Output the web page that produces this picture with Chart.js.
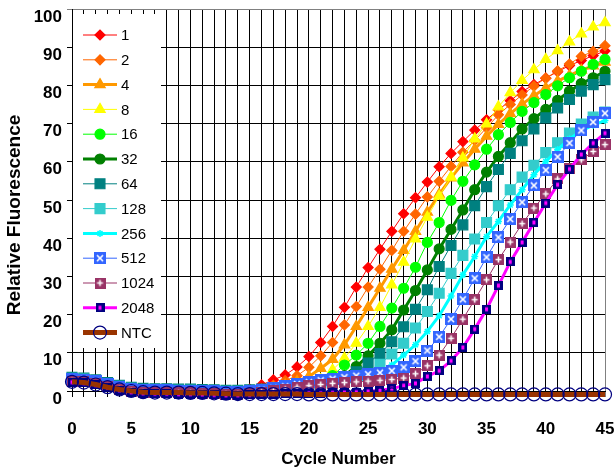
<!DOCTYPE html>
<html>
<head>
<meta charset="utf-8">
<script src="https://cdn.jsdelivr.net/npm/chart.js@4.4.0/dist/chart.umd.min.js"></script>
<style>
  html, body { margin: 0; padding: 0; background: #fff; }
  #wrap { width: 615px; height: 473px; }
</style>
</head>
<body>
<div id="wrap"><canvas id="chart"></canvas></div>
<script>
// Cycle numbers (x axis)
const cycles = [0, 1, 2, 3, 4, 5, 6, 7, 8, 9, 10, 11, 12, 13, 14, 15, 16, 17, 18, 19, 20, 21, 22,
  23, 24, 25, 26, 27, 28, 29, 30, 31, 32, 33, 34, 35, 36, 37, 38, 39, 40, 41, 42, 43, 44, 45];

// Relative fluorescence per dilution
const s1 = [3.1, 2.9, 2.4, 1.7, 1.0, 0.5, 0.2, 0.1, 0.1, 0.0, 0.0, -0.1, -0.2, -0.3, -0.2,
  0.5, 1.6, 2.9, 4.2, 6.3, 9.0, 12.7, 16.9, 21.9, 27.2, 32.3, 37.1, 41.8, 46.4, 50.6,
  54.7, 58.7, 62.2, 65.3, 68.3, 71.0, 73.6, 76.0, 78.4, 80.2, 81.9, 83.6, 85.2, 86.5, 87.8, 89.0];
const s2 = [3.0, 2.8, 2.3, 1.6, 0.9, 0.4, 0.1, 0.0, 0.0, -0.1, -0.1, -0.2, -0.3, -0.4, -0.4,
  -0.2, 0.4, 1.5, 2.7, 4.0, 6.2, 9.2, 12.7, 17.3, 22.1, 27.2, 31.9, 36.8, 41.8, 46.3,
  50.8, 54.9, 58.8, 62.5, 65.6, 68.9, 72.3, 75.0, 77.5, 79.8, 81.9, 83.8, 85.6, 87.6, 88.9, 90.4];
const s4 = [3.1, 2.9, 2.4, 1.7, 1.0, 0.5, 0.2, 0.1, 0.1, 0.0, 0.0, -0.1, -0.2, -0.3, -0.3,
  -0.2, 0.2, 0.8, 1.5, 2.5, 3.8, 5.9, 8.3, 12.1, 16.9, 21.9, 26.9, 31.9, 36.8, 41.8,
  46.8, 51.5, 55.8, 59.7, 63.3, 66.7, 69.8, 72.6, 75.1, 77.3, 79.3, 81.1, 82.6, 84.0, 85.1, 86.1];
const s8 = [2.9, 2.7, 2.2, 1.5, 0.8, 0.3, 0.0, -0.1, -0.1, -0.2, -0.2, -0.3, -0.4, -0.5, -0.5,
  -0.4, -0.2, 0.2, 0.6, 1.0, 1.6, 3.0, 5.5, 8.6, 12.5, 16.9, 21.9, 27.8, 33.7, 39.8,
  45.5, 51.0, 56.0, 61.0, 66.0, 69.9, 74.4, 78.1, 81.3, 84.1, 86.8, 89.1, 91.4, 93.5, 95.3, 96.4];
const s16 = [3.0, 2.8, 2.3, 1.6, 0.9, 0.4, 0.1, 0.0, 0.0, -0.1, -0.1, -0.2, -0.3, -0.4, -0.4,
  -0.3, -0.1, 0.2, 0.5, 0.9, 1.4, 2.2, 4.0, 6.8, 9.4, 12.5, 16.9, 21.7, 26.9, 32.4,
  38.9, 44.1, 49.9, 54.9, 59.2, 63.3, 67.1, 70.3, 73.2, 75.5, 77.6, 79.9, 82.0, 83.7, 85.5, 86.8];
const s32 = [3.2, 3.0, 2.5, 1.8, 1.1, 0.6, 0.3, 0.2, 0.2, 0.1, 0.1, 0.0, -0.1, -0.2, -0.2,
  -0.1, 0.1, 0.3, 0.6, 0.9, 1.2, 1.6, 2.4, 4.0, 6.4, 9.2, 12.5, 16.0, 21.2, 26.3,
  31.7, 37.2, 42.3, 47.4, 52.7, 57.3, 61.4, 65.0, 68.6, 71.3, 73.7, 76.1, 78.5, 80.5, 82.0, 83.7];
const s64 = [3.6, 3.4, 2.9, 2.2, 1.5, 1.0, 0.7, 0.6, 0.6, 0.5, 0.5, 0.4, 0.3, 0.2, 0.2,
  0.3, 0.5, 0.8, 1.1, 1.4, 1.8, 2.3, 3.0, 3.8, 5.0, 7.3, 9.8, 12.9, 16.8, 21.4,
  26.5, 32.6, 38.1, 43.5, 48.5, 53.5, 58.0, 62.2, 65.5, 68.6, 71.5, 74.1, 76.3, 78.5, 80.2, 81.5];
const s128 = [3.3, 3.1, 2.6, 1.9, 1.2, 0.7, 0.4, 0.3, 0.3, 0.2, 0.2, 0.1, 0.0, -0.1, -0.1,
  0.0, 0.2, 0.5, 0.8, 1.1, 1.5, 1.9, 2.3, 2.7, 3.2, 4.6, 7.0, 9.7, 12.5, 16.5,
  20.8, 25.6, 30.8, 35.5, 39.8, 44.1, 48.5, 52.7, 56.0, 59.1, 62.4, 65.0, 67.5, 69.9, 71.7, 73.0];
const s256 = [3.0, 2.8, 2.3, 1.6, 0.9, 0.4, 0.1, 0.0, 0.0, -0.1, -0.1, -0.2, -0.3, -0.4, -0.4,
  -0.3, -0.1, 0.2, 0.5, 0.8, 1.1, 1.4, 1.8, 2.2, 2.6, 3.2, 4.6, 6.8, 9.4, 12.1,
  15.6, 19.7, 24.9, 30.4, 35.2, 40.4, 44.4, 48.7, 52.7, 56.6, 60.1, 63.2, 66.0, 68.1, 69.6, 70.8];
const s512 = [3.2, 3.0, 2.5, 1.8, 1.1, 0.6, 0.3, 0.2, 0.2, 0.1, 0.1, 0.0, -0.1, -0.2, -0.2,
  -0.1, 0.3, 0.8, 1.2, 1.8, 2.3, 2.8, 3.2, 3.6, 4.0, 4.4, 4.8, 5.3, 6.2, 7.8,
  10.6, 14.2, 18.8, 24.0, 29.5, 35.0, 40.2, 45.0, 49.4, 53.8, 57.8, 61.3, 64.9, 68.2, 70.4, 72.7];
const s1024 = [2.6, 2.4, 1.9, 1.2, 0.5, 0.0, -0.3, -0.4, -0.4, -0.5, -0.5, -0.6, -0.7, -0.8, -0.8,
  -0.7, -0.3, 0.1, 0.5, 1.0, 1.4, 1.7, 2.0, 2.2, 2.4, 2.6, 2.8, 3.0, 3.4, 4.5,
  6.6, 9.4, 13.8, 18.8, 23.9, 29.1, 34.4, 39.0, 43.8, 47.9, 51.6, 55.5, 58.2, 60.5, 62.7, 64.5];
const s2048 = [2.3, 2.1, 1.6, 0.9, 0.2, -0.3, -0.6, -0.7, -0.7, -0.8, -0.8, -0.9, -1.0, -1.1, -1.1,
  -1.0, -0.9, -0.8, -0.7, -0.7, -0.6, -0.6, -0.5, -0.4, -0.3, -0.1, 0.2, 0.6, 1.4, 2.0,
  3.8, 5.3, 7.9, 11.4, 16.2, 21.4, 27.6, 33.8, 38.9, 44.1, 49.2, 54.0, 58.1, 61.9, 64.9, 67.5];
const ntc = [2.4, 2.2, 1.7, 1.0, 0.4, 0.0, -0.3, -0.4, -0.4, -0.4, -0.5, -0.5, -0.6, -0.7, -0.8,
  -0.8, -0.8, -0.8, -0.8, -0.8, -0.9, -0.9, -0.9, -0.9, -0.9, -0.9, -0.9, -0.9, -0.9, -0.9,
  -0.9, -0.9, -0.9, -0.9, -0.9, -0.9, -0.9, -0.9, -0.9, -0.9, -0.9, -0.9, -0.9, -0.9, -0.9, -0.9];

const seriesLabels = ['1', '2', '4', '8', '16', '32', '64', '128', '256', '512', '1024', '2048', 'NTC'];
const seriesValues = [s1, s2, s4, s8, s16, s32, s64, s128, s256, s512, s1024, s2048, ntc];

const FONT = 'Arial, "Liberation Sans", sans-serif';

// Small canvas markers for the boxed point styles
function markerCanvas(size, draw) {
  const c = document.createElement('canvas');
  c.width = size;
  c.height = size;
  draw(c.getContext('2d'), size);
  return c;
}
const boxCross = markerCanvas(12, (g, s) => {
  g.fillStyle = '#3366FF';
  g.fillRect(0, 0, s, s);
  g.strokeStyle = '#fff';
  g.lineWidth = 1.7;
  g.beginPath();
  g.moveTo(3, 3); g.lineTo(s - 3, s - 3);
  g.moveTo(s - 3, 3); g.lineTo(3, s - 3);
  g.stroke();
});
const boxPlus = markerCanvas(11, (g, s) => {
  g.fillStyle = '#993366';
  g.fillRect(0, 0, s, s);
  g.strokeStyle = '#fff';
  g.lineWidth = 1.6;
  g.beginPath();
  g.moveTo(s / 2, 2.5); g.lineTo(s / 2, s - 2.5);
  g.moveTo(2.5, s / 2); g.lineTo(s - 2.5, s / 2);
  g.stroke();
});
const boxDot = markerCanvas(9, (g, s) => {
  g.fillStyle = '#000080';
  g.fillRect(0, 0, s, s);
  g.fillStyle = '#FF00FF';
  g.fillRect(3, 2.5, 3, 4);
});

// Line / marker look for each series
const styles = [
  { color: '#FF0000', width: 1, point: 'rectRot', r: 5 },
  { color: '#FF6600', width: 1, point: 'rectRot', r: 5 },
  { color: '#FF9900', width: 3, point: 'triangle', r: 6 },
  { color: '#FFFF00', width: 1, point: 'triangle', r: 6 },
  { color: '#00FF00', width: 1, point: 'circle', r: 5 },
  { color: '#008000', width: 3, point: 'circle', r: 5 },
  { color: '#008080', width: 1, point: 'rect', r: 7 },
  { color: '#33CCCC', width: 1, point: 'rect', r: 7 },
  { color: '#00FFFF', width: 3, point: 'star', r: 3.5 },
  { color: '#3366FF', width: 1, point: boxCross, r: 6 },
  { color: '#993366', width: 1, point: boxPlus, r: 6 },
  { color: '#FF00FF', width: 3, point: boxDot, r: 5 },
  { color: '#993300', width: 5, point: 'circle', r: 6.5, fill: 'rgba(0,0,0,0)', edge: '#000080' },
];

const datasets = seriesValues.map((vals, i) => {
  const st = styles[i];
  return {
    label: seriesLabels[i],
    data: vals.map((v, j) => ({ x: cycles[j], y: v })),
    borderColor: st.color,
    borderWidth: st.width,
    pointStyle: st.point,
    pointRadius: st.r,
    pointBackgroundColor: st.fill || st.color,
    pointBorderColor: st.edge || st.color,
    pointBorderWidth: st.point === 'star' ? 1.5 : 1.2,
    tension: 0,
    clip: false,
    order: seriesValues.length - i,
  };
});

// White legend panel inside the plot, with line + marker samples
const insideLegend = {
  id: 'insideLegend',
  beforeDatasetsDraw(chart) {
    const { ctx, chartArea } = chart;
    ctx.save();
    ctx.fillStyle = '#fff';
    ctx.fillRect(chartArea.left + 1, 14, 88, 334);
    ctx.restore();
  },
  afterDatasetsDraw(chart) {
    const { ctx, chartArea } = chart;
    const x0 = chartArea.left + 11;
    ctx.save();
    ctx.font = '15px ' + FONT;
    ctx.textBaseline = 'middle';
    ctx.textAlign = 'left';
    chart.data.datasets.forEach((ds, i) => {
      const y = 35 + i * 24.8;
      ctx.strokeStyle = ds.borderColor;
      ctx.lineWidth = ds.borderWidth;
      ctx.beginPath();
      ctx.moveTo(x0, y);
      ctx.lineTo(x0 + 34, y);
      ctx.stroke();
      ctx.fillStyle = ds.pointBackgroundColor;
      ctx.strokeStyle = ds.pointBorderColor;
      ctx.lineWidth = ds.pointBorderWidth;
      Chart.helpers.drawPoint(ctx, {
        pointStyle: ds.pointStyle,
        radius: ds.pointRadius,
        borderWidth: ds.pointBorderWidth,
        rotation: 0,
      }, x0 + 17, y);
      ctx.fillStyle = '#000';
      ctx.fillText(ds.label, x0 + 38, y + 1);
    });
    ctx.restore();
  }
};

// Vertical axis title, placed like the original (a bit below the plot centre)
const yTitle = {
  id: 'yTitle',
  afterDraw(chart) {
    const ctx = chart.ctx;
    ctx.save();
    ctx.translate(15, 215);
    ctx.rotate(-Math.PI / 2);
    ctx.font = 'bold 19px ' + FONT;
    ctx.fillStyle = '#000';
    ctx.textAlign = 'center';
    ctx.textBaseline = 'middle';
    ctx.fillText('Relative Fluorescence', 0, 0);
    ctx.restore();
  }
};

new Chart(document.getElementById('chart'), {
  type: 'line',
  data: { datasets },
  options: {
    responsive: true,
    maintainAspectRatio: false,
    animation: false,
    layout: { padding: { top: 9, right: 10, left: 0, bottom: 0 } },
    plugins: {
      legend: { display: false },
      tooltip: { enabled: false }
    },
    scales: {
      x: {
        type: 'linear',
        min: 0,
        max: 45,
        afterFit: s => { s.height = 82; s.paddingLeft = 0; s.paddingRight = 0; },
        border: { color: '#000', width: 1 },
        grid: {
          color: c => (c.tick && c.tick.value === 45 ? '#808080' : '#000'),
          tickLength: 6,
        },
        ticks: {
          stepSize: 1,
          autoSkip: false,
          maxRotation: 0,
          padding: 22,
          color: '#000',
          font: { family: FONT, size: 17, weight: 'bold' },
          callback: v => (v % 5 === 0 ? v : '')
        },
        title: {
          display: true,
          text: 'Cycle Number',
          color: '#000',
          font: { family: FONT, size: 17, weight: 'bold' },
          padding: { top: 0, bottom: 3 }
        }
      },
      y: {
        min: 0,
        max: 100,
        afterFit: s => { s.width = 72; s.paddingTop = 0; s.paddingBottom = 0; },
        border: { color: '#000', width: 1 },
        grid: {
          color: c => (c.tick && c.tick.value === 100 ? '#808080' : '#000'),
          tickLength: 5,
        },
        ticks: {
          stepSize: 10,
          padding: 5,
          labelOffset: 8,
          color: '#000',
          font: { family: FONT, size: 17, weight: 'bold' }
        }
      }
    }
  },
  plugins: [insideLegend, yTitle]
});
</script>
</body>
</html>
